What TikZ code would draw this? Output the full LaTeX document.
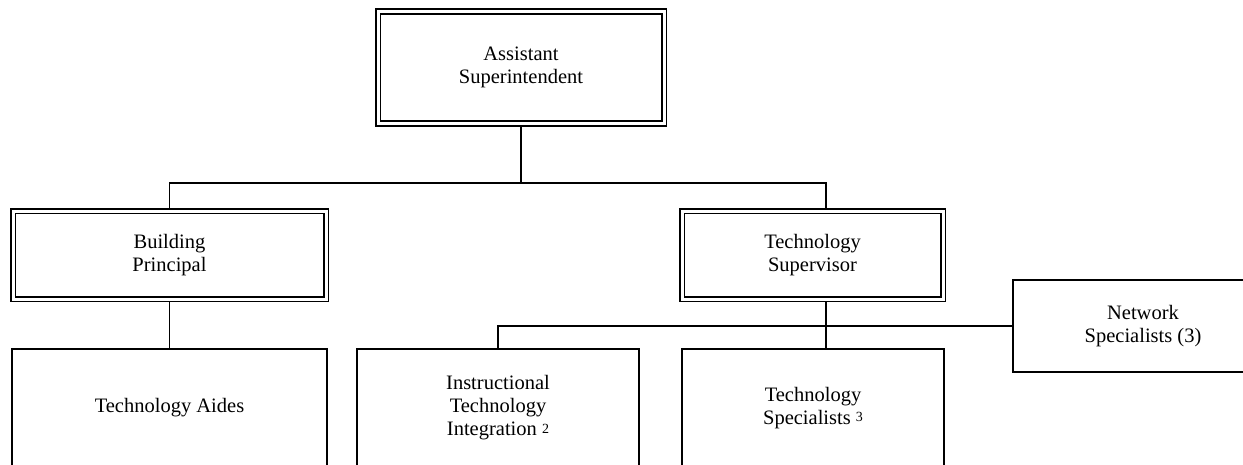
\documentclass[tikz,border=0pt]{standalone}
\usepackage{fontspec}
\setmainfont{Liberation Serif}
\usetikzlibrary{calc}
\tikzset{
  dbox/.style={draw, double, line width=1.6pt, double distance=3pt, outer sep=3pt, inner sep=0pt, align=center, font=\fontsize{20.5}{23}\selectfont},
  sbox/.style={draw, line width=1.6pt, outer sep=0pt, inner sep=0pt, align=center, font=\fontsize{20.5}{23}\selectfont},
  conn/.style={line width=1.6pt}
}
\newcommand{\supnum}[1]{\raisebox{0.3ex}{\fontsize{14}{14}\selectfont #1}}
\begin{document}
\begin{tikzpicture}[x=1pt,y=-1pt]
\useasboundingbox (0,0) rectangle (1243,464);
\clip (0,0) rectangle (1243,464);
\fill[white] (0,0) rectangle (1243,464);
\node[dbox, minimum width=286pt, minimum height=112pt] (asst) at (521,67.5) {Assistant\\Superintendent};
\node[dbox, minimum width=313pt, minimum height=88pt] (bp) at (169.5,255) {Building\\Principal};
\node[dbox, minimum width=261pt, minimum height=88pt] (sup) at (812.5,255) {Technology\\Supervisor};
\node[sbox, minimum width=315pt, minimum height=118pt] (ta) at (169.5,408) {Technology Aides};
\node[sbox, minimum width=282pt, minimum height=118pt] (it) at (498,408) {Instructional\\Technology\\Integration \supnum{2}};
\node[sbox, minimum width=262pt, minimum height=118pt] (ts) at (813,408) {Technology\\Specialists \supnum{3}};
\node[sbox, minimum width=260pt, minimum height=92pt] (net) at (1143,326) {Network\\Specialists (3)};
\coordinate (j1) at (521,183);
\draw[conn] (asst.south) -- (j1);
\draw[conn] (bp.north) |- (j1) -| ([xshift=13.5pt]sup.north);
\draw[conn] (bp.south) -- (ta.north);
\draw[conn] ([xshift=13.5pt]sup.south) -- ([xshift=13pt]ts.north);
\draw[conn] (it.north) |- (net.west);
\end{tikzpicture}
\end{document}
